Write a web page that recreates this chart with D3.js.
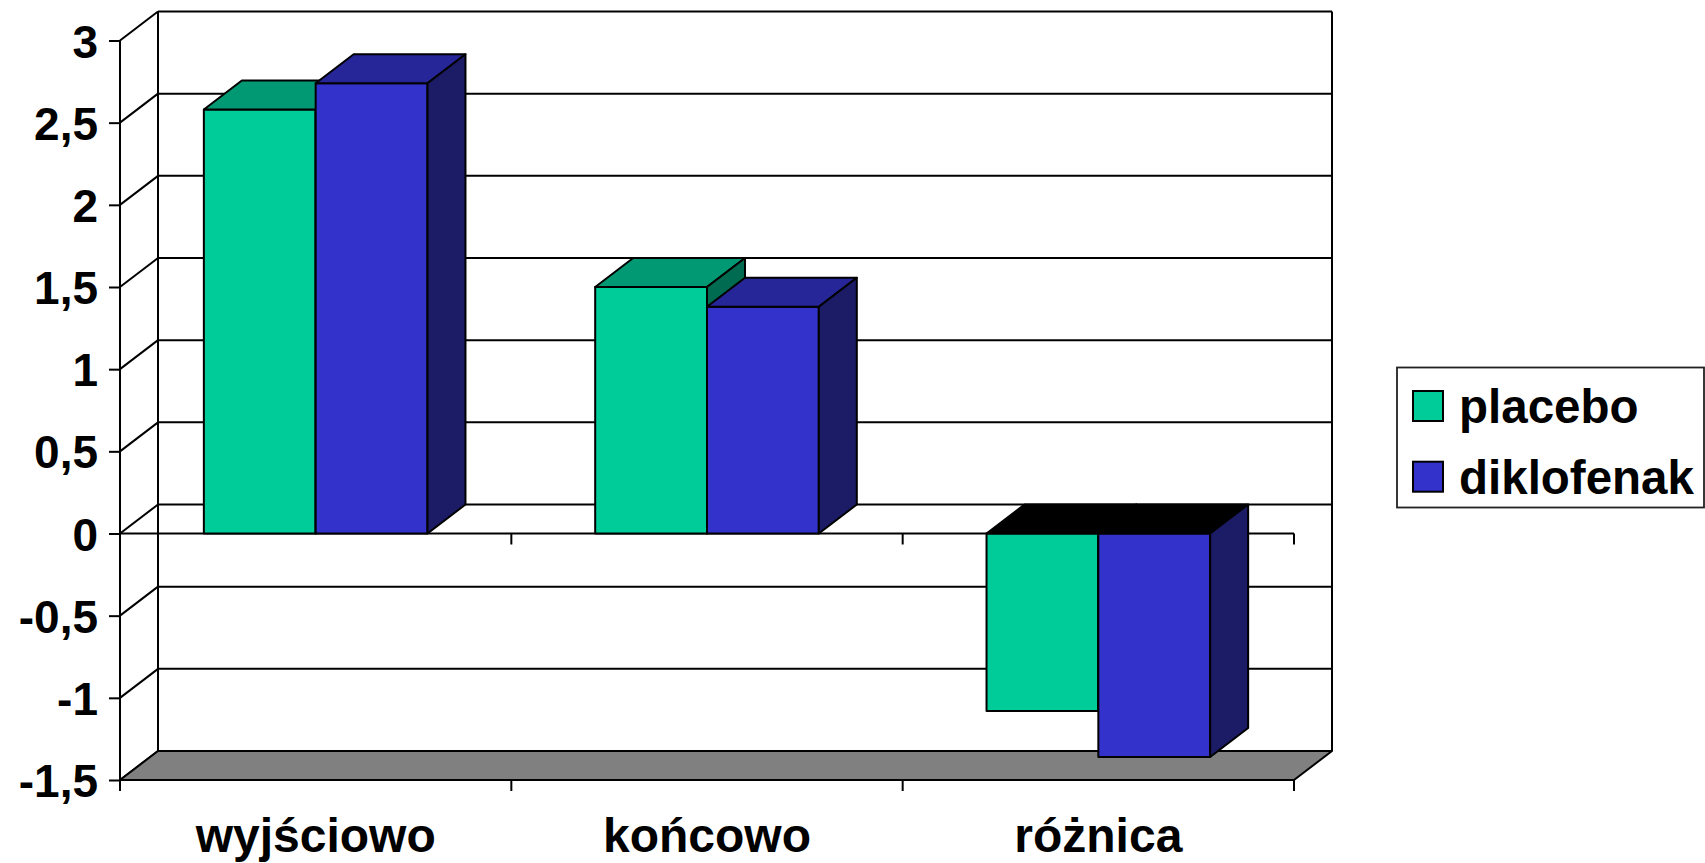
<!DOCTYPE html>
<html>
<head>
<meta charset="utf-8">
<script src="https://cdn.jsdelivr.net/npm/d3@7"></script>
<style>
  html, body { margin: 0; padding: 0; background: #fff; }
  svg { display: block; }
  text { font-family: "Liberation Sans", Arial, sans-serif; font-weight: bold; fill: #000; }
</style>
</head>
<body>
<svg id="chart" width="1705" height="863"></svg>
<script>
// Chart data
const categories = ["wyjściowo", "końcowo", "różnica"];
const seriesNames = ["placebo", "diklofenak"];
const placebo = [2.58, 1.5, -1.08];
const diklofenak = [2.74, 1.38, -1.36];
const yTicks = [-1.5, -1, -0.5, 0, 0.5, 1, 1.5, 2, 2.5, 3];

const seriesValues = [placebo, diklofenak];
const colors = {
  placebo:    { front: "#00CC99", top: "#009973", side: "#006B50" },
  diklofenak: { front: "#3333CC", top: "#262699", side: "#1B1B66" }
};

// 3D depth offset of the plot box
const DX = 38, DY = -29;

const svg = d3.select("#chart");
const fmt = d3.formatLocale({ decimal: ",", thousands: " ", grouping: [3], currency: ["", " zł"], minus: "-" }).format("");

const y = d3.scaleLinear().domain([-1.5, 3]).range([780, 40.5]);
const x = d3.scaleBand().domain(categories).range([120, 1294]);
const xs = d3.scaleBand().domain(seriesNames).range([0, x.bandwidth()]).paddingInner(0).paddingOuter(0.75);

const [x0, x1] = x.range();
const [yMin, yMax] = y.domain();

const walls = svg.append("g").attr("fill", "none").attr("stroke", "#000").attr("stroke-width", 2);

// back wall gridlines
walls.selectAll("line.grid").data(yTicks).join("line")
  .attr("class", "grid")
  .attr("x1", x0 + DX).attr("x2", x1 + DX)
  .attr("y1", d => y(d) + DY).attr("y2", d => y(d) + DY);

// side wall diagonals
walls.selectAll("line.diag").data(yTicks).join("line")
  .attr("class", "diag")
  .attr("x1", x0).attr("x2", x0 + DX)
  .attr("y1", d => y(d)).attr("y2", d => y(d) + DY);

// wall edges
walls.append("line").attr("x1", x0 + DX).attr("x2", x0 + DX).attr("y1", y(yMax) + DY).attr("y2", y(yMin) + DY);
walls.append("line").attr("x1", x1 + DX).attr("x2", x1 + DX).attr("y1", y(yMax) + DY).attr("y2", y(yMin) + DY);
walls.append("line").attr("x1", x0).attr("x2", x0).attr("y1", y(yMax)).attr("y2", y(yMin) + 11);

// floor
svg.append("polygon")
  .attr("points", [[x0, y(yMin)], [x1, y(yMin)], [x1 + DX, y(yMin) + DY], [x0 + DX, y(yMin) + DY]].join(" "))
  .attr("fill", "#808080").attr("stroke", "#000").attr("stroke-width", 2).attr("stroke-linejoin", "round");

// category boundary ticks on zero line and under the floor
const bounds = categories.map(c => x(c) + x.bandwidth()).concat([x0]);
const axisLines = svg.append("g").attr("stroke", "#000").attr("stroke-width", 2);
axisLines.append("line").attr("x1", x0).attr("x2", x1).attr("y1", y(0)).attr("y2", y(0));
axisLines.selectAll("line.zt").data(bounds.slice(0, 3)).join("line")
  .attr("class", "zt").attr("x1", d => d).attr("x2", d => d).attr("y1", y(0)).attr("y2", y(0) + 11);
axisLines.selectAll("line.ft").data(bounds).join("line")
  .attr("class", "ft").attr("x1", d => d).attr("x2", d => d).attr("y1", y(yMin)).attr("y2", y(yMin) + 11);

// y axis ticks and labels
const yAxis = d3.axisLeft(y).tickValues(yTicks).tickFormat(fmt).tickSize(11).tickSizeOuter(0).tickPadding(11);
const gy = svg.append("g").attr("transform", `translate(${x0},0)`).call(yAxis);
gy.select(".domain").remove();
gy.selectAll(".tick line").attr("stroke", "#000").attr("stroke-width", 2);
gy.selectAll(".tick text").attr("font-size", 46).attr("font-family", "'Liberation Sans', Arial, sans-serif")
  .attr("font-weight", "bold").attr("fill", "#000").attr("dy", "0.36em");

// 3D bars
const bars = svg.append("g").attr("stroke", "#000").attr("stroke-width", 2).attr("stroke-linejoin", "round");
categories.forEach((c, ci) => {
  seriesNames.forEach((s, si) => {
    const v = seriesValues[si][ci];
    const bx0 = x(c) + xs(s), bx1 = bx0 + xs.bandwidth();
    const yv = y(v), y0 = y(0);
    const yTop = Math.min(yv, y0), yBot = Math.max(yv, y0);
    const col = colors[s];
    bars.append("rect").attr("x", bx0).attr("y", yTop).attr("width", bx1 - bx0).attr("height", yBot - yTop)
      .attr("fill", col.front);
    bars.append("polygon")
      .attr("points", [[bx0, yTop], [bx0 + DX, yTop + DY], [bx1 + DX, yTop + DY], [bx1, yTop]].join(" "))
      .attr("fill", v >= 0 ? col.top : "#000");
    bars.append("polygon")
      .attr("points", [[bx1, yTop], [bx1 + DX, yTop + DY], [bx1 + DX, yBot + DY], [bx1, yBot]].join(" "))
      .attr("fill", col.side);
  });
});

// category labels
svg.append("g").selectAll("text").data(categories).join("text")
  .attr("x", d => x(d) + x.bandwidth() / 2)
  .attr("y", 852)
  .attr("text-anchor", "middle")
  .attr("font-size", 48)
  .text(d => d);

// legend
const legend = svg.append("g");
legend.append("rect").attr("x", 1397).attr("y", 367.5).attr("width", 307).attr("height", 140)
  .attr("fill", "#fff").attr("stroke", "#222").attr("stroke-width", 1.8);
const li = legend.selectAll("g.item").data(seriesNames).join("g")
  .attr("class", "item")
  .attr("transform", (d, i) => `translate(1413, ${391 + i * 70.7})`);
li.append("rect").attr("width", 30).attr("height", 30)
  .attr("fill", d => colors[d].front).attr("stroke", "#000").attr("stroke-width", 2);
li.append("text").attr("x", 46).attr("y", 15).attr("dy", "0.36em").attr("font-size", 47.5).text(d => d);
</script>
</body>
</html>
